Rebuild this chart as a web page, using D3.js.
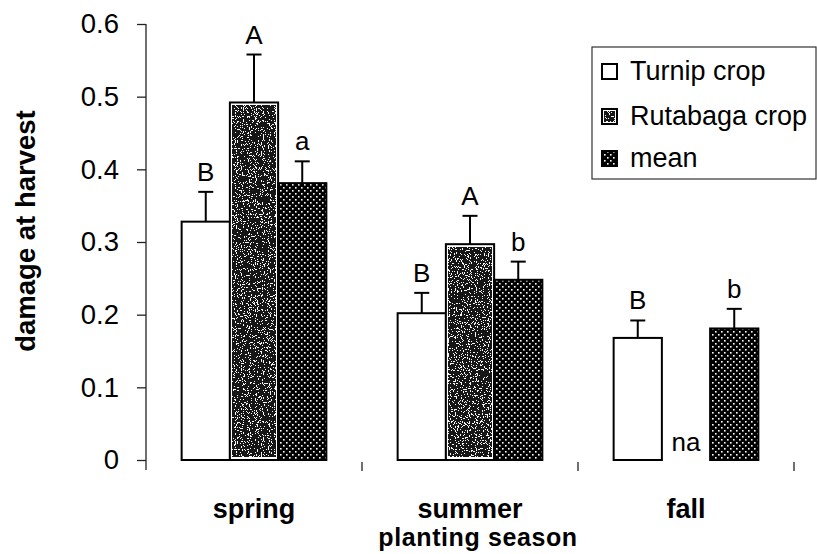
<!DOCTYPE html>
<html><head><meta charset="utf-8">
<script src="https://cdn.jsdelivr.net/npm/d3@7"></script>
<style>
html,body{margin:0;padding:0;background:#fff;}
svg{display:block;font-family:"Liberation Sans",Arial,sans-serif;}
</style></head>
<body>
<svg id="chart" width="817" height="554"></svg>
<script>
const categories = ["spring", "summer", "fall"];
const seriesNames = ["Turnip crop", "Rutabaga crop", "mean"];
const turnip = [0.328, 0.202, 0.168];
const turnipErr = [0.041, 0.028, 0.024];
const rutabaga = [0.492, 0.297, null];
const rutabagaErr = [0.066, 0.039, null];
const meanVals = [0.381, 0.248, 0.181];
const meanErr = [0.030, 0.025, 0.027];
const turnipLetters = ["B", "B", "B"];
const rutabagaLetters = ["A", "A", null];
const meanLetters = ["a", "b", "b"];
const yTicks = [0, 0.1, 0.2, 0.3, 0.4, 0.5, 0.6];
const yTitle = "damage at harvest";
const xTitle = "planting season";
const naLabel = "na";

const svg = d3.select("#chart");
const defs = svg.append("defs");

// mean pattern: black with white dots
const pat = defs.append("pattern").attr("id", "dots").attr("patternUnits", "userSpaceOnUse")
  .attr("width", 6).attr("height", 6);
pat.append("rect").attr("width", 6).attr("height", 6).attr("fill", "#000");
pat.append("rect").attr("x", 1).attr("y", 1).attr("width", 1.6).attr("height", 1.6).attr("fill", "#fff");
pat.append("rect").attr("x", 4).attr("y", 4).attr("width", 1.6).attr("height", 1.6).attr("fill", "#fff");

// rutabaga speckle filter
const f = defs.append("filter").attr("id", "speckle").attr("x", 0).attr("y", 0).attr("width", 1).attr("height", 1);
f.append("feTurbulence").attr("type", "fractalNoise").attr("baseFrequency", 0.85).attr("numOctaves", 2).attr("seed", 4).attr("result", "n");
f.append("feColorMatrix").attr("in", "n").attr("type", "matrix")
  .attr("values", "0 0 0 0 1  0 0 0 0 1  0 0 0 0 1  2.2 0 0 0 -0.85").attr("result", "w");
const ct = f.append("feComponentTransfer").attr("in", "w").attr("result", "sp");
ct.append("feFuncA").attr("type", "discrete").attr("tableValues", "0 0 0.9 1");
f.append("feFlood").attr("flood-color", "#181818").attr("result", "bg");
const mg = f.append("feMerge");
mg.append("feMergeNode").attr("in", "bg");
mg.append("feMergeNode").attr("in", "sp");

const x = d3.scaleBand().domain(categories).range([146, 794]).paddingInner(0.33).paddingOuter(0.165);
const xs = d3.scaleBand().domain(seriesNames).range([0, x.bandwidth()]);
const y = d3.scaleLinear().domain([0, 0.6]).range([460, 24]);

// y axis
const yAxis = d3.axisLeft(y).tickValues(yTicks).tickSize(9).tickPadding(18)
  .tickFormat(d => d === 0 ? "0" : d3.format(".1f")(d));
const ga = svg.append("g").attr("transform", "translate(146,0)").call(yAxis);
ga.select(".domain").attr("stroke", "#222").attr("stroke-width", 1.3).attr("d", "M0,24V470");
ga.selectAll(".tick line").attr("stroke", "#222").attr("stroke-width", 1.3);
ga.selectAll(".tick text").attr("font-size", 27.5).attr("fill", "#000")
  .attr("font-family", "Liberation Sans, Arial, sans-serif");

// x category boundary ticks
const bounds = categories.map(c => x(c) + x.bandwidth() + x.step() * x.paddingInner() / 2);
bounds[bounds.length - 1] = x.range()[1];
svg.append("g").selectAll("line").data(bounds).join("line")
  .attr("x1", d => d).attr("x2", d => d).attr("y1", 462).attr("y2", 471)
  .attr("stroke", "#222").attr("stroke-width", 1.3);

// bars
const series = [
  {name: seriesNames[0], vals: turnip, err: turnipErr, letters: turnipLetters},
  {name: seriesNames[1], vals: rutabaga, err: rutabagaErr, letters: rutabagaLetters},
  {name: seriesNames[2], vals: meanVals, err: meanErr, letters: meanLetters}
];

const gBars = svg.append("g");
series.forEach((s, si) => {
  categories.forEach((c, ci) => {
    const v = s.vals[ci];
    const bx = x(c) + xs(s.name);
    const bw = xs.bandwidth();
    const cx = bx + bw / 2;
    if (v == null) {
      gBars.append("text").attr("x", cx).attr("y", 451).attr("text-anchor", "middle")
        .attr("font-size", 26).text(naLabel);
      return;
    }
    const top = y(v), h = y(0) - y(v);
    if (si === 0) {
      gBars.append("rect").attr("x", bx).attr("y", top).attr("width", bw).attr("height", h)
        .attr("fill", "#fff").attr("stroke", "#000").attr("stroke-width", 2);
    } else if (si === 1) {
      gBars.append("rect").attr("x", bx).attr("y", top).attr("width", bw).attr("height", h)
        .attr("fill", "#fff").attr("stroke", "#000").attr("stroke-width", 2);
      gBars.append("rect").attr("x", bx + 3).attr("y", top + 3).attr("width", bw - 6).attr("height", h - 6)
        .attr("fill", "#000").attr("filter", "url(#speckle)");
    } else {
      gBars.append("rect").attr("x", bx).attr("y", top).attr("width", bw).attr("height", h)
        .attr("fill", "url(#dots)").attr("stroke", "#000").attr("stroke-width", 2);
    }
    const cap = y(v + s.err[ci]);
    gBars.append("line").attr("x1", cx).attr("x2", cx).attr("y1", top).attr("y2", cap)
      .attr("stroke", "#000").attr("stroke-width", 2);
    gBars.append("line").attr("x1", cx - 7.5).attr("x2", cx + 7.5).attr("y1", cap).attr("y2", cap)
      .attr("stroke", "#000").attr("stroke-width", 2);
    gBars.append("text").attr("x", cx).attr("y", cap - 11).attr("text-anchor", "middle")
      .attr("font-size", 26).text(s.letters[ci]);
  });
});

// category labels
svg.append("g").selectAll("text").data(categories).join("text")
  .attr("x", d => x(d) + x.bandwidth() / 2).attr("y", 518).attr("text-anchor", "middle")
  .attr("font-size", 27).attr("font-weight", "bold").text(d => d);
svg.append("text").attr("x", x("summer") + x.bandwidth() / 2 + 8).attr("y", 546).attr("text-anchor", "middle")
  .attr("font-size", 25).attr("font-weight", "bold").attr("letter-spacing", 0.6).text(xTitle);

// y title
svg.append("text").attr("transform", "translate(35,231) rotate(-90)").attr("text-anchor", "middle")
  .attr("font-size", 27.5).attr("font-weight", "bold").text(yTitle);

// legend
const lg = svg.append("g");
lg.append("rect").attr("x", 592).attr("y", 47).attr("width", 224).attr("height", 132)
  .attr("fill", "#fff").attr("stroke", "#333").attr("stroke-width", 1.2);
const legendRows = [80, 125, 167];
seriesNames.forEach((n, i) => {
  const by = legendRows[i];
  const sx = 602, sy = by - 16, ss = 15;
  if (i === 0) {
    lg.append("rect").attr("x", sx).attr("y", sy).attr("width", ss).attr("height", ss)
      .attr("fill", "#fff").attr("stroke", "#000").attr("stroke-width", 2);
  } else if (i === 1) {
    lg.append("rect").attr("x", sx).attr("y", sy).attr("width", ss).attr("height", ss)
      .attr("fill", "#fff").attr("stroke", "#000").attr("stroke-width", 2);
    lg.append("rect").attr("x", sx + 2.5).attr("y", sy + 2.5).attr("width", ss - 5).attr("height", ss - 5)
      .attr("fill", "#000").attr("filter", "url(#speckle)");
  } else {
    lg.append("rect").attr("x", sx).attr("y", sy).attr("width", ss).attr("height", ss)
      .attr("fill", "url(#dots)").attr("stroke", "#000").attr("stroke-width", 2);
  }
  lg.append("text").attr("x", 630).attr("y", by).attr("font-size", 27).text(n);
});
</script>
</body></html>
